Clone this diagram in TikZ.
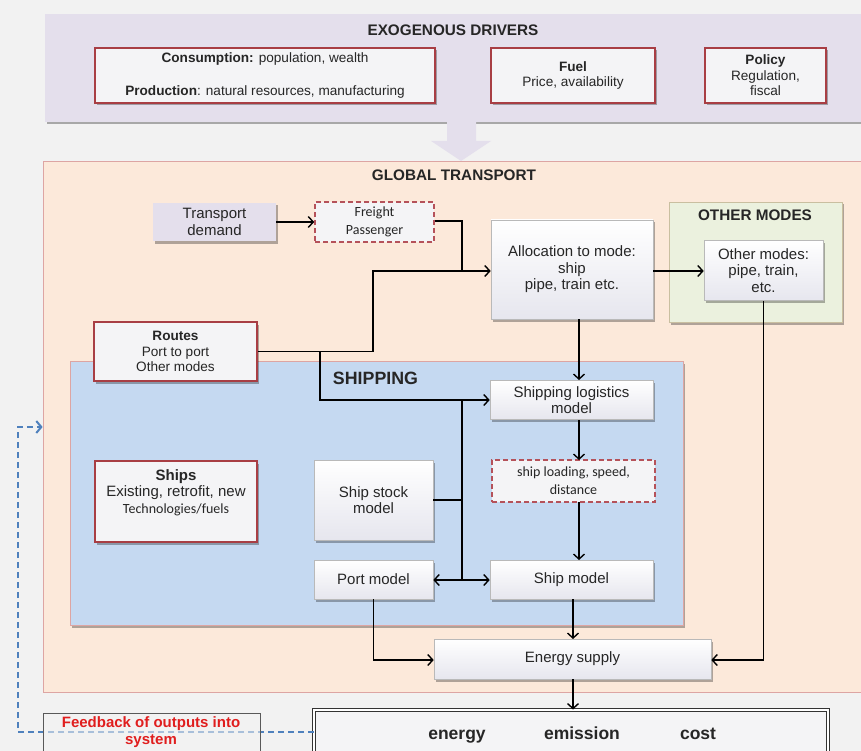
\documentclass[tikz,border=0pt]{standalone}
\usepackage{fontspec}
\setmainfont{Liberation Sans}
\newfontfamily\calib{Carlito}
\usetikzlibrary{arrows.meta,shadows,calc}

\definecolor{bgc}{HTML}{F2F2F2}
\definecolor{exoc}{HTML}{E4DFEC}
\definecolor{gtc}{HTML}{FCE9DA}
\definecolor{gtline}{HTML}{DDA5A3}
\definecolor{shipc}{HTML}{C5D9F1}
\definecolor{otherc}{HTML}{EBF1DE}
\definecolor{otherline}{HTML}{C9BFA0}
\definecolor{boxfill}{HTML}{F4F4F6}
\definecolor{boxlow}{HTML}{E6E6EE}
\definecolor{boxred}{HTML}{A83E44}
\definecolor{dashred}{HTML}{B5525A}
\definecolor{fbblue}{HTML}{4F81BD}
\definecolor{fbred}{HTML}{E01E1E}
\definecolor{txt}{HTML}{262626}

\begin{document}
\begin{tikzpicture}[x=1pt,y=-1pt,
  shade/.style={drop shadow={shadow xshift=2pt,shadow yshift=-2.5pt,fill=black,opacity=0.3}},
  panel/.style={rectangle,inner sep=0pt,line width=0.8pt},
  redbox/.style={rectangle,draw=boxred,line width=1.6pt,fill=boxfill,shade,align=center,text=txt,inner sep=2pt},
  greybox/.style={rectangle,draw=gray!55,line width=0.6pt,top color=white,bottom color=boxlow,shade,align=center,text=txt,inner sep=2pt},
  dashbox/.style={rectangle,draw=dashred,dash pattern=on 5pt off 3pt,line width=1.6pt,fill=boxfill,align=center,text=txt,inner sep=2pt},
  title/.style={font=\bfseries\fontsize{15.3pt}{17pt}\selectfont,text=txt,inner sep=0pt},
  small/.style={font=\fontsize{13.6pt}{15.5pt}\selectfont},
  big/.style={font=\fontsize{15pt}{16.6pt}\selectfont},
  cal/.style={font=\calib\fontsize{14pt}{18pt}\selectfont},
  outword/.style={font=\bfseries\fontsize{17.5pt}{19pt}\selectfont,text=txt,anchor=base},
  line/.style={draw=black,line width=1.4pt},
  conn/.style={line,-{Straight Barb[length=5pt,width=11pt,line width=1.4pt]}},
  fb/.style={draw=fbblue,line width=2pt,dash pattern=on 6pt off 4pt,-{Straight Barb[length=5pt,width=12pt,line width=2pt]}}
]
\useasboundingbox (0,0) rectangle (861,751);
\clip (0,0) rectangle (861,751);
\fill[bgc] (0,0) rectangle (861,751);

% ---------- exogenous drivers ----------
\node[panel,fill=exoc,shade,minimum width=830pt,minimum height=108pt] (exo) at (460,68) {};
\node[title] (exotitle) at (453,30) {EXOGENOUS DRIVERS};
\node[redbox,small,minimum width=340pt,minimum height=55pt] (cons) at (265,75.5)
  {\textbf{Consumption:} population, wealth\\[17pt]\textbf{Production}: natural resources, manufacturing};
\node[redbox,small,minimum width=164pt,minimum height=55pt] (fuel) at (573,75.5)
  {\textbf{Fuel}\\Price, availability};
\node[redbox,small,minimum width=121pt,minimum height=55pt] (policy) at (765.5,75.5)
  {\textbf{Policy}\\Regulation,\\fiscal};

% broad arrow from the drivers into the transport system
\fill[exoc] (447,122) -- (476,122) -- (476,141) -- (491,141) -- (461,161)
  -- (431,141) -- (447,141) -- cycle;

% ---------- global transport ----------
\node[panel,fill=gtc,draw=gtline,minimum width=835pt,minimum height=531pt] (gt) at (460.5,426.5) {};
\node[title] (gttitle) at (454,175) {GLOBAL TRANSPORT};

\node[rectangle,fill=exoc,shade,font=\fontsize{15pt}{17pt}\selectfont,text=txt,align=center,
  minimum width=123pt,minimum height=38pt,inner sep=0pt] (demand) at (214.5,222) {Transport\\demand};
\node[dashbox,cal,minimum width=119pt,minimum height=40pt] (freight) at (374.5,222) {Freight\\Passenger};

\node[greybox,big,minimum width=162pt,minimum height=99pt] (alloc) at (572,269.5)
  {Allocation to mode:\\ship\\pipe, train etc.};

% other modes
\node[panel,fill=otherc,draw=otherline,shade,minimum width=173pt,minimum height=120pt] (other) at (755.5,262) {};
\node[title] (othertitle) at (755,215) {OTHER MODES};
\node[greybox,big,minimum width=119pt,minimum height=60pt] (othbox) at (763.5,270.5)
  {Other modes:\\pipe, train,\\etc.};

% ---------- shipping ----------
\node[panel,fill=shipc,draw=gtline,shade,minimum width=613pt,minimum height=264pt] (ship) at (376.5,493) {};
\node[title,font=\bfseries\fontsize{17.8pt}{19pt}\selectfont] (shiptitle) at (375.5,378) {SHIPPING};

\node[redbox,small,minimum width=163pt,minimum height=59pt] (routes) at (175.5,351.5)
  {\textbf{Routes}\\Port to port\\Other modes};

\node[greybox,big,minimum width=163pt,minimum height=39pt] (logis) at (571.5,400)
  {Shipping logistics\\model};
\node[dashbox,cal,minimum width=163pt,minimum height=42pt] (load) at (573.5,481)
  {ship loading, speed,\\distance};
\node[greybox,big,minimum width=163pt,minimum height=39pt] (shipmod) at (571.5,579.5) {Ship model};

\node[redbox,big,minimum width=162pt,minimum height=81pt] (ships) at (176,501.5)
  {\textbf{Ships}\\Existing, retrofit, new\\{\calib\fontsize{14pt}{16pt}\selectfont Technologies/fuels}\\[4pt]};
\node[greybox,big,minimum width=119pt,minimum height=80pt] (stock) at (373.5,500)
  {Ship stock\\model};
\node[greybox,big,minimum width=119pt,minimum height=39pt] (port) at (373.5,579.5) {Port model};

\node[greybox,big,minimum width=277pt,minimum height=40pt] (energy) at (572.5,659) {Energy supply};

% ---------- outputs and feedback ----------
\node[rectangle,draw=black!80,double=white,double distance=1.4pt,line width=1pt,fill=boxfill,
  minimum width=514pt,minimum height=62pt] (out) at (571,741) {};
\node[outword] (oenergy) at (457,739) {energy};
\node[outword] (oemission) at (582,739) {emission};
\node[outword] (ocost) at (698,739) {cost};

\coordinate (fbup) at (18,427);
\node[rectangle,inner sep=0pt,minimum width=1pt,minimum height=1pt] (fbstart) at (314,732) {};
\draw[fb] (fbstart.center) -| (fbup) -- (gt.west |- fbup);

\node[rectangle,draw=gray!70!black,line width=0.8pt,fill=bgc,fill opacity=0.55,
  minimum width=217pt,minimum height=60pt] (fbbox) at (151.5,743) {};
\node[font=\bfseries\fontsize{15pt}{17pt}\selectfont,text=fbred,align=center] (fbtext) at (151,732)
  {Feedback of outputs into\\system};

% ---------- connectors ----------
\coordinate (jalloc) at (462,271);
\draw[conn] (demand.east) -- (freight.west);
\draw[line] (freight.east |- 0,221) -| (jalloc);
\draw[conn] (routes.east) -| (373,271) -- (alloc.west |- jalloc);
\draw[conn] (alloc.east |- jalloc) -- (othbox.west |- jalloc);
\draw[conn] (320,351) |- (logis.west);
\draw[conn] (579,319) -- (579,380);
\draw[conn] (579,420) -- (579,460);
\draw[conn] (579,502) -- (579,560);

\coordinate (jtop) at (462,401);
\coordinate (jbot) at (462,580);
\draw[line] (jtop) -- (jbot);
\draw[line] (stock.east) -- (jtop |- stock.east);
\draw[conn] (jbot) -- (port.east |- jbot);
\draw[conn] (jbot) -- (shipmod.west |- jbot);

\draw[conn] (573,599) -- (573,639);
\draw[conn] (port.south) |- (energy.west |- 0,660);
\draw[conn] (othbox.south) |- (energy.east |- 0,660);
\draw[conn] (573,679) -- (out.north -| 573,0);
\end{tikzpicture}
\end{document}
